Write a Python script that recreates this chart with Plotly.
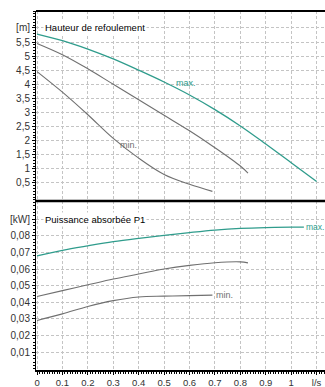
import plotly.graph_objects as go

# ---- data ----
x_hmax = [0, 0.1, 0.2, 0.3, 0.4, 0.5, 0.6, 0.7, 0.8, 0.9, 1.0, 1.1]
h_max = [5.78, 5.55, 5.25, 4.9, 4.5, 4.08, 3.62, 3.1, 2.52, 1.88, 1.22, 0.55]
x_hmid = [0, 0.1, 0.2, 0.3, 0.4, 0.5, 0.6, 0.7, 0.8, 0.83]
h_mid = [5.45, 5.05, 4.55, 4.0, 3.45, 2.9, 2.35, 1.75, 1.1, 0.85]
x_hmin = [0, 0.1, 0.2, 0.3, 0.4, 0.5, 0.6, 0.69]
h_min = [4.45, 3.72, 2.92, 2.08, 1.38, 0.8, 0.45, 0.2]

x_pmax = [0, 0.1, 0.2, 0.3, 0.4, 0.5, 0.6, 0.7, 0.8, 0.9, 1.0, 1.05]
p_max = [0.068, 0.0713, 0.074, 0.0765, 0.0785, 0.0803, 0.082, 0.0835, 0.0845, 0.085, 0.0852, 0.0852]
x_pmid = [0, 0.1, 0.2, 0.3, 0.4, 0.5, 0.6, 0.7, 0.8, 0.83]
p_mid = [0.0435, 0.047, 0.0505, 0.054, 0.057, 0.060, 0.0622, 0.0638, 0.0643, 0.0637]
x_pmin = [0, 0.1, 0.2, 0.3, 0.4, 0.5, 0.6, 0.69]
p_min = [0.029, 0.033, 0.0375, 0.041, 0.0432, 0.0437, 0.044, 0.0443]

x_ticks = [0, 0.1, 0.2, 0.3, 0.4, 0.5, 0.6, 0.7, 0.8, 0.9, 1.0, 1.1]
x_labels = ["0", "0.1", "0.2", "0.3", "0.4", "0.5", "0.6", "0.7", "0.8", "0.9", "1", "l/s"]
h_ticks = [0.5, 1, 1.5, 2, 2.5, 3, 3.5, 4, 4.5, 5, 5.5, 6]
h_labels = ["0,5", "1", "1,5", "2", "2,5", "3", "3,5", "4", "4,5", "5", "5,5", "[m]"]
p_ticks = [0.01, 0.02, 0.03, 0.04, 0.05, 0.06, 0.07, 0.08, 0.09]
p_labels = ["0,01", "0,02", "0,03", "0,04", "0,05", "0,06", "0,07", "0,08", "[kW]"]

TEAL = "#2f9c8c"
GRAY = "#707070"
FONT = "Liberation Sans, Arial, sans-serif"

fig = go.Figure()
fig.add_trace(go.Scatter(x=x_hmax, y=h_max, mode="lines", line=dict(color=TEAL, width=1.3, shape="spline"), xaxis="x2", yaxis="y2"))
fig.add_trace(go.Scatter(x=x_hmid, y=h_mid, mode="lines", line=dict(color=GRAY, width=1.1, shape="spline"), xaxis="x2", yaxis="y2"))
fig.add_trace(go.Scatter(x=x_hmin, y=h_min, mode="lines", line=dict(color=GRAY, width=1.1, shape="spline"), xaxis="x2", yaxis="y2"))
fig.add_trace(go.Scatter(x=x_pmax, y=p_max, mode="lines", line=dict(color=TEAL, width=1.3, shape="spline"), xaxis="x", yaxis="y"))
fig.add_trace(go.Scatter(x=x_pmid, y=p_mid, mode="lines", line=dict(color=GRAY, width=1.1, shape="spline"), xaxis="x", yaxis="y"))
fig.add_trace(go.Scatter(x=x_pmin, y=p_min, mode="lines", line=dict(color=GRAY, width=1.1, shape="spline"), xaxis="x", yaxis="y"))

split = 0.4708
grid = dict(showgrid=True, gridcolor="#c4c4c4", gridwidth=1, griddash="3px,2px", automargin=False)
xr = [-0.004, 1.133]

fig.update_layout(
    width=325, height=387,
    margin=dict(l=36, r=0, t=11, b=17, autoexpand=False),
    paper_bgcolor="white", plot_bgcolor="white",
    showlegend=False,
    font=dict(family=FONT, size=10, color="#333333"),
    xaxis=dict(domain=[0, 1], range=xr, anchor="y", tickvals=x_ticks, ticktext=x_labels,
               showline=True, linecolor="black", linewidth=1.5, ticks="outside", ticklen=3,
               tickcolor="black", tickfont=dict(size=9.5),
               minor=dict(dtick=0.01, ticks="outside", ticklen=2, tickcolor="black", showgrid=False),
               zeroline=False, **grid),
    xaxis2=dict(domain=[0, 1], range=xr, anchor="y2", tickvals=x_ticks, showticklabels=False,
                showline=False, zeroline=False, **grid),
    yaxis=dict(domain=[0, split], range=[-0.0008, 0.101], anchor="x", tickvals=p_ticks, ticktext=p_labels,
               showline=True, linecolor="black", linewidth=1, ticks="outside", ticklen=3, tickcolor="black",
               minor=dict(dtick=0.002, ticks="outside", ticklen=2, tickcolor="black", showgrid=False),
               zeroline=False, **grid),
    yaxis2=dict(domain=[split, 1], range=[-0.14, 6.6], anchor="x2", tickvals=h_ticks, ticktext=h_labels,
                showline=True, linecolor="black", linewidth=1, ticks="outside", ticklen=3, tickcolor="black",
                minor=dict(dtick=0.1, ticks="outside", ticklen=2, tickcolor="black", showgrid=False),
                zeroline=False, **grid),
)

# panel borders
fig.add_shape(type="line", xref="paper", yref="paper", x0=0, x1=1, y0=1, y1=1, line=dict(color="black", width=2))
fig.add_shape(type="line", xref="paper", yref="paper", x0=0, x1=1, y0=split, y1=split, line=dict(color="black", width=2.5))

# panel titles
fig.add_annotation(x=0.025, y=6.0, xref="x2", yref="y2", text="Hauteur de refoulement", showarrow=False,
                   xanchor="left", font=dict(size=9.5, color="black"), bgcolor="white")
fig.add_annotation(x=0.025, y=0.09, xref="x", yref="y", text="Puissance absorbée P1", showarrow=False,
                   xanchor="left", font=dict(size=9.5, color="black"), bgcolor="white")

# curve labels
fig.add_annotation(x=0.585, y=4.06, xref="x2", yref="y2", text="max.", showarrow=False,
                   font=dict(size=9, color=TEAL))
fig.add_annotation(x=0.36, y=1.85, xref="x2", yref="y2", text="min.", showarrow=False,
                   font=dict(size=9, color=GRAY))
fig.add_annotation(x=1.05, y=0.0852, xref="x", yref="y", text="max.", showarrow=False, xanchor="left",
                   font=dict(size=8.5, color=TEAL))
fig.add_annotation(x=0.695, y=0.0443, xref="x", yref="y", text="min.", showarrow=False, xanchor="left",
                   font=dict(size=9, color=GRAY))

# remove the default 8px page margin so the figure sits at the window origin
fig.write_html("out.html",
               config={"displayModeBar": False},
               post_script="document.body.style.margin='0';document.documentElement.style.overflow='hidden';")
